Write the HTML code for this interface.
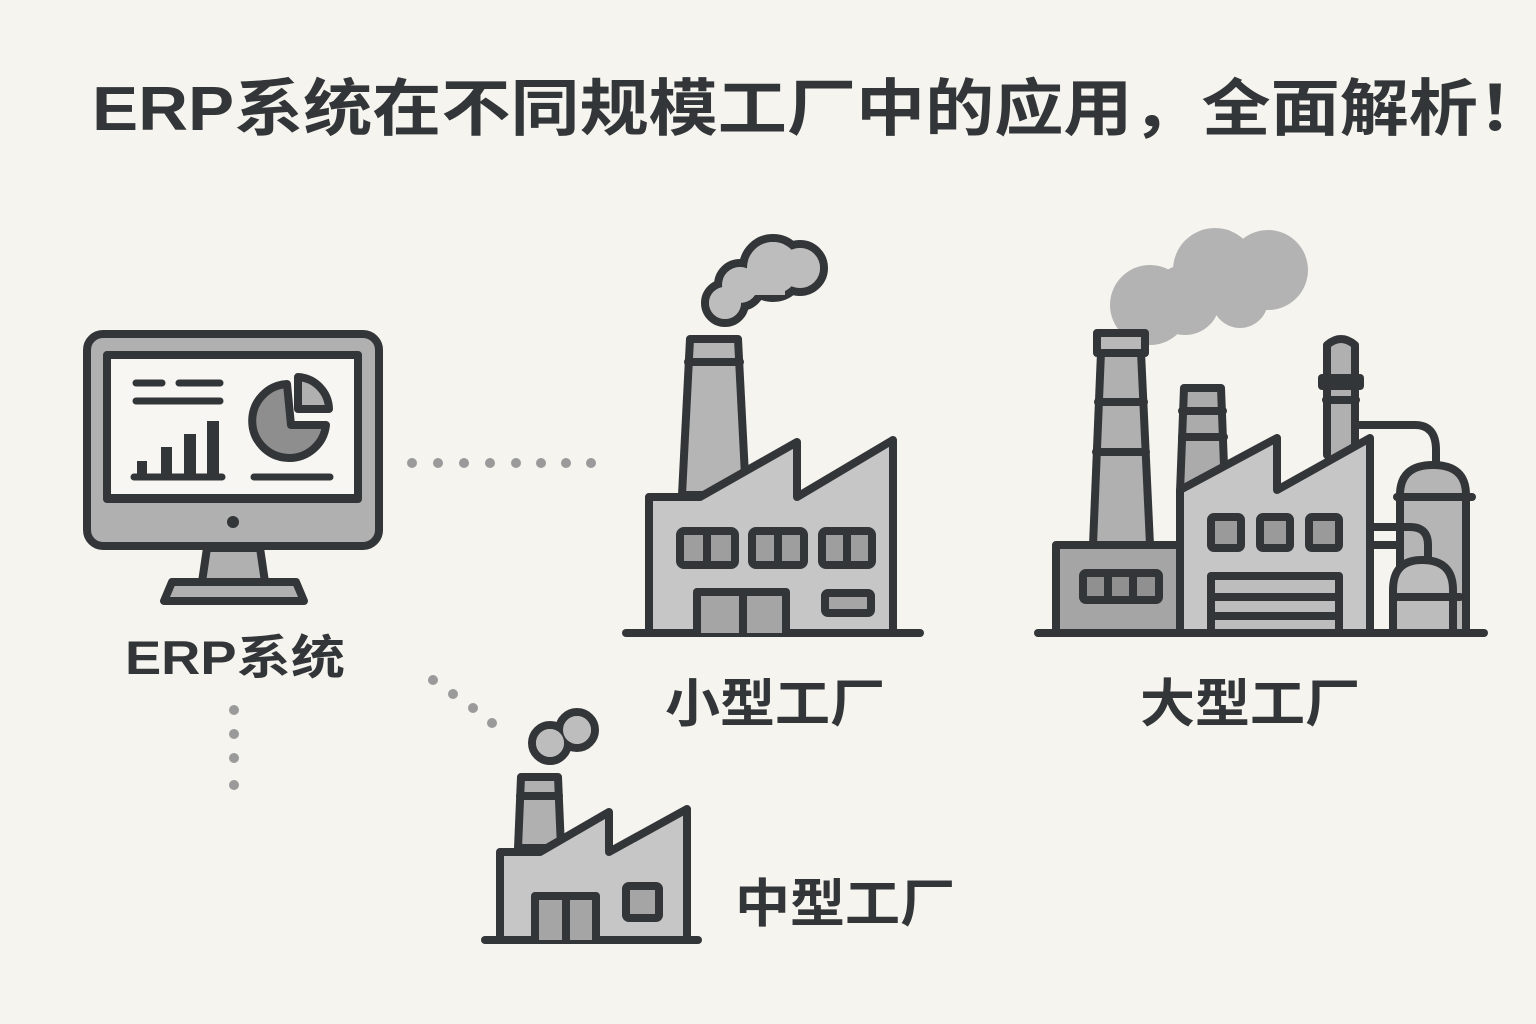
<!DOCTYPE html>
<html><head><meta charset="utf-8"><style>
html,body{margin:0;padding:0;background:#f6f4ef;}
svg{display:block}
text{font-family:"Liberation Sans","Noto Sans CJK SC",sans-serif;font-weight:bold;fill:#333638}
</style></head><body>
<svg width="1536" height="1024" viewBox="0 0 1536 1024" xmlns="http://www.w3.org/2000/svg">
<rect width="1536" height="1024" fill="#f6f4ef"/>
<text x="92" y="130" font-size="62" textLength="1455" lengthAdjust="spacingAndGlyphs">ERP系统在不同规模工厂中的应用，全面解析！</text>

<g fill="#9a9a9a">
<circle cx="412" cy="463" r="5"/><circle cx="438" cy="463" r="5"/><circle cx="464" cy="463" r="5"/><circle cx="490" cy="463" r="5"/><circle cx="516" cy="463" r="5"/><circle cx="541" cy="463" r="5"/><circle cx="566" cy="463" r="5"/><circle cx="591" cy="463" r="5"/>
<circle cx="433" cy="680" r="5"/><circle cx="453" cy="694" r="5"/><circle cx="473" cy="708" r="5"/><circle cx="492" cy="723" r="5"/>
<circle cx="234" cy="710" r="5"/><circle cx="234" cy="734" r="5"/><circle cx="234" cy="758" r="5"/><circle cx="234" cy="785" r="5"/>
</g>

<g stroke="#333638" stroke-width="8" stroke-linejoin="round" stroke-linecap="round">
<rect x="87" y="334" width="292" height="212" rx="16" fill="#b0b0b0"/>
<rect x="107" y="355" width="251" height="143" fill="#f7f6f2"/>
<line x1="107" y1="499" x2="358" y2="499"/>
<path d="M207 548 L202 582 L265 582 L260 548 Z" fill="#b0b0b0"/>
<path d="M172 582 L164 601 L304 601 L296 582 Z" fill="#b0b0b0"/>
<line x1="136" y1="383" x2="162" y2="383" stroke-width="7"/>
<line x1="179" y1="383" x2="220" y2="383" stroke-width="7"/>
<line x1="136" y1="401" x2="220" y2="401" stroke-width="7"/>
<line x1="134" y1="477" x2="222" y2="477" stroke-width="7"/>
<line x1="254" y1="477" x2="330" y2="477" stroke-width="7"/>
<path d="M287 384 A37 37 0 1 0 326 425 L291 425 Z" fill="#8e8e8e"/>
<path d="M298 377 A33 33 0 0 1 329 409 L298 409 Z" fill="#b0b0b0"/>
</g>
<g fill="#333638">
<rect x="137" y="461" width="10" height="16"/><rect x="161" y="447" width="11" height="30"/><rect x="184" y="434" width="12" height="43"/><rect x="207" y="421" width="12" height="56"/>
<circle cx="233" cy="522" r="6"/>
</g>

<g stroke="#333638" stroke-width="8" stroke-linejoin="round" stroke-linecap="round">
<circle cx="773" cy="268" r="30" fill="#bdbdbd"/><circle cx="800" cy="268" r="24" fill="#bdbdbd"/><circle cx="740" cy="285" r="22" fill="#bdbdbd"/><circle cx="725" cy="303" r="20" fill="#bdbdbd"/>
</g>
<g fill="#bdbdbd"><circle cx="773" cy="268" r="26"/><circle cx="800" cy="268" r="20"/><circle cx="740" cy="285" r="18"/><circle cx="725" cy="303" r="16"/><rect x="735" y="270" width="50" height="25"/></g>
<g stroke="#333638" stroke-width="8" stroke-linejoin="round" stroke-linecap="round">
<path d="M690 339 L738 339 L746 495 L682 495 Z" fill="#b5b5b5"/>
<line x1="688" y1="362" x2="740" y2="362"/>
<path d="M649 633 L649 497 L700 497 L797 442 L797 497 L893 440 L893 633" fill="#c6c6c6"/>
<line x1="626" y1="633" x2="920" y2="633"/>
<rect x="680" y="531" width="55" height="34" rx="4" fill="#9e9e9e"/><line x1="707" y1="531" x2="707" y2="565"/>
<rect x="752" y="531" width="52" height="34" rx="4" fill="#9e9e9e"/><line x1="778" y1="531" x2="778" y2="565"/>
<rect x="822" y="531" width="50" height="34" rx="4" fill="#9e9e9e"/><line x1="847" y1="531" x2="847" y2="565"/>
<path d="M697 633 L697 592 L786 592 L786 633" fill="#a5a5a5"/><line x1="743" y1="592" x2="743" y2="633"/>
<rect x="825" y="593" width="46" height="20" rx="3" fill="#a5a5a5"/>
</g>

<g stroke="#333638" stroke-width="8" stroke-linejoin="round" stroke-linecap="round">
<circle cx="577" cy="730" r="18" fill="#bdbdbd"/><circle cx="550" cy="743" r="18" fill="#bdbdbd"/>
</g>
<g fill="#bdbdbd"><circle cx="577" cy="730" r="14"/><circle cx="550" cy="743" r="14"/></g>
<g stroke="#333638" stroke-width="8" stroke-linejoin="round" stroke-linecap="round">
<path d="M521 777 L558 777 L561 848 L518 848 Z" fill="#b0b0b0"/>
<line x1="520" y1="796" x2="559" y2="796"/>
<path d="M500 940 L500 852 L540 852 L609 812 L609 852 L687 809 L687 940" fill="#c6c6c6"/>
<line x1="485" y1="940" x2="698" y2="940"/>
<path d="M535 940 L535 896 L596 896 L596 940" fill="#a5a5a5"/><line x1="566" y1="896" x2="566" y2="940"/>
<rect x="626" y="886" width="33" height="32" rx="3" fill="#a5a5a5"/>
</g>

<g fill="#b3b3b3">
<circle cx="1150" cy="305" r="40"/><circle cx="1215" cy="270" r="42"/><circle cx="1268" cy="270" r="40"/><circle cx="1185" cy="300" r="35"/><circle cx="1240" cy="300" r="28"/>
</g>
<g stroke="#333638" stroke-width="8" stroke-linejoin="round" stroke-linecap="round">
<path d="M1101 352 L1141 352 L1150 545 L1093 545 Z" fill="#b0b0b0"/>
<rect x="1097" y="333" width="48" height="20" fill="#b8b8b8"/>
<line x1="1098" y1="402" x2="1144" y2="402"/><line x1="1096" y1="452" x2="1146" y2="452"/>
<rect x="1056" y="545" width="124" height="88" fill="#a5a5a5"/>
<rect x="1083" y="573" width="76" height="27" rx="3" fill="#909090"/>
<line x1="1108" y1="573" x2="1108" y2="600"/><line x1="1133" y1="573" x2="1133" y2="600"/>
<path d="M1184 388 L1221 388 L1225 492 L1180 492 Z" fill="#ababab"/>
<line x1="1182" y1="411" x2="1223" y2="411"/><line x1="1182" y1="437" x2="1224" y2="437"/>
<path d="M1360 425 L1415 425 Q1436 425 1436 450 L1436 465" fill="none"/>
<path d="M1327 455 L1327 345 Q1341 333 1355 345 L1355 455" fill="#b0b0b0"/>
<rect x="1322" y="378" width="38" height="8" fill="#333638"/>
<line x1="1326" y1="400" x2="1356" y2="400"/>
<path d="M1180 633 L1180 490 L1277 438 L1277 490 L1370 438 L1370 633" fill="#c6c6c6"/>
<path d="M1400 633 L1400 495 Q1400 465 1433 465 Q1466 465 1466 495 L1466 633" fill="#b5b5b5"/>
<line x1="1397" y1="497" x2="1472" y2="497"/>
<path d="M1370 527 L1410 527 Q1428 527 1428 545 L1428 560" fill="none"/>
<line x1="1370" y1="545" x2="1398" y2="545"/>
<path d="M1393 633 L1393 590 Q1393 560 1422 560 Q1453 560 1453 590 L1453 633" fill="#bcbcbc"/>
<line x1="1393" y1="597" x2="1460" y2="597"/>
<rect x="1211" y="517" width="30" height="31" rx="3" fill="#9a9a9a"/>
<rect x="1260" y="517" width="30" height="31" rx="3" fill="#9a9a9a"/>
<rect x="1309" y="517" width="30" height="31" rx="3" fill="#9a9a9a"/>
<path d="M1211 633 L1211 576 L1339 576 L1339 633" fill="#bdbdbd"/>
<line x1="1211" y1="597" x2="1339" y2="597"/><line x1="1211" y1="616" x2="1339" y2="616"/>
<line x1="1038" y1="633" x2="1484" y2="633"/>
</g>

<text x="125" y="674" font-size="47" textLength="220" lengthAdjust="spacingAndGlyphs">ERP系统</text>
<text x="665" y="722" font-size="52" textLength="220" lengthAdjust="spacingAndGlyphs">小型工厂</text>
<text x="1140" y="722" font-size="52" textLength="220" lengthAdjust="spacingAndGlyphs">大型工厂</text>
<text x="735" y="922" font-size="52" textLength="220" lengthAdjust="spacingAndGlyphs">中型工厂</text>
</svg>
</body></html>
